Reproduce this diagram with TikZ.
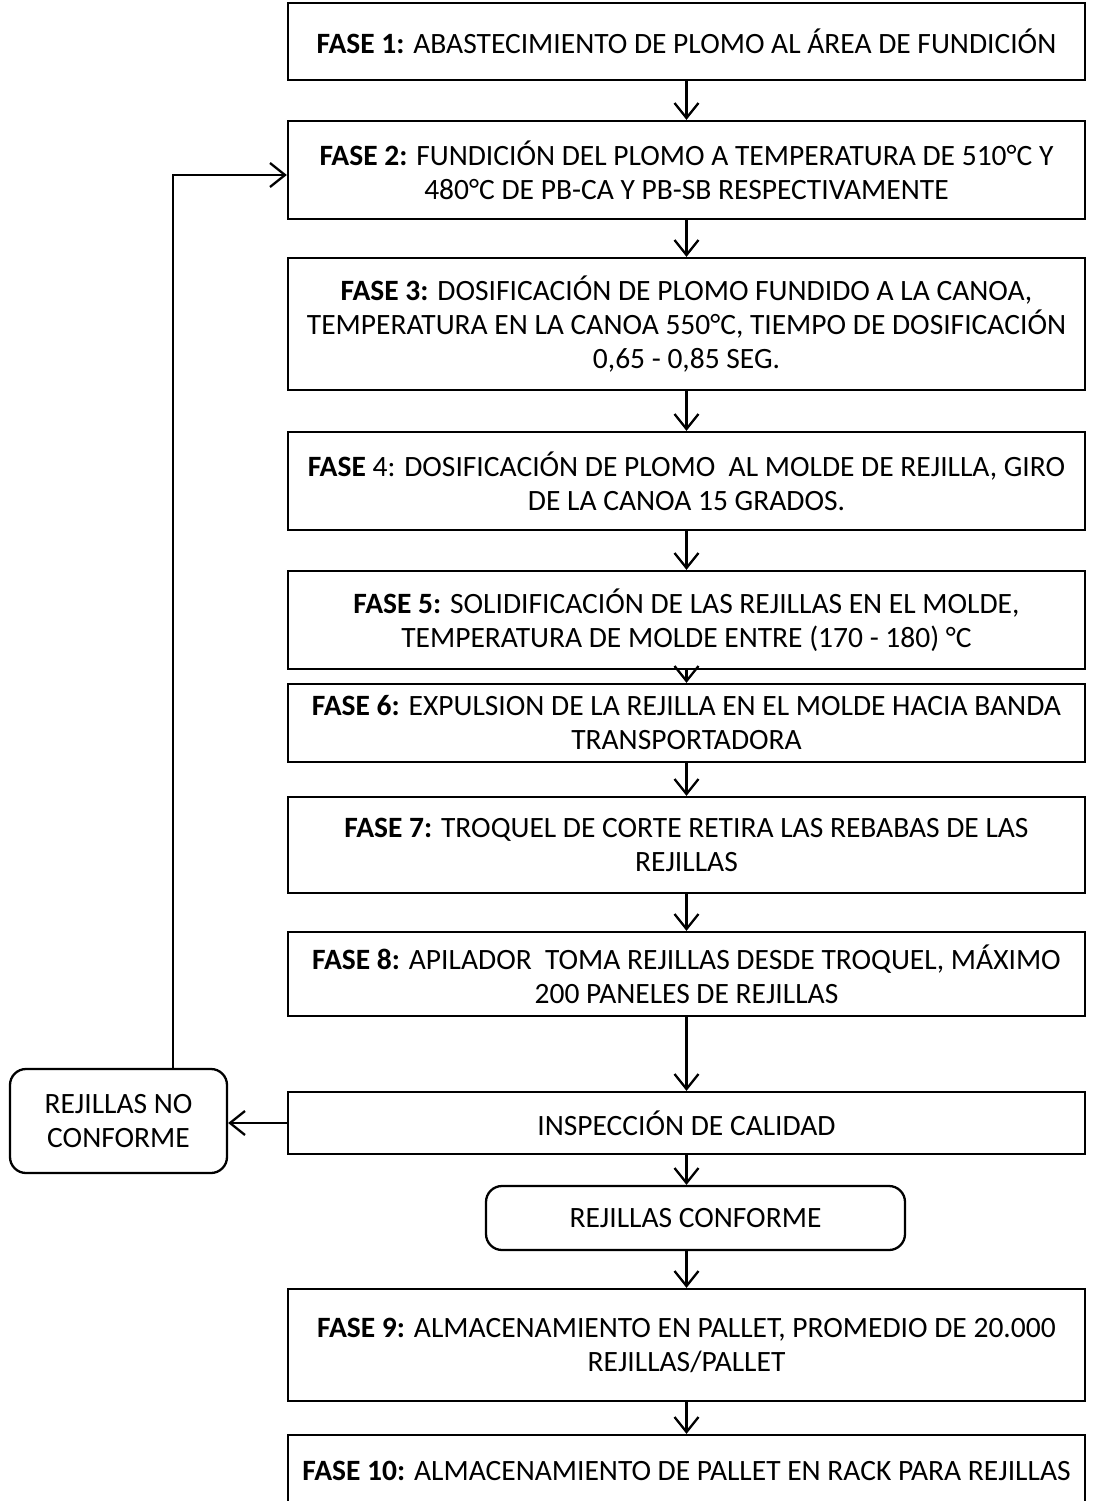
\documentclass[tikz,border=0pt]{standalone}
\usepackage{fontspec}
\setmainfont{Carlito}
\usetikzlibrary{arrows.meta, positioning}

\begin{document}
\begin{tikzpicture}[x=1pt, y=-1pt, line width=2.3pt, >={Straight Barb[length=15pt,width=24pt]},
        fase/.style={draw, rectangle, minimum width=797pt, align=center, inner sep=0pt, font=\fontsize{29.5}{34}\selectfont},
        redondo/.style={draw, rectangle, rounded corners=16pt, align=center, inner sep=0pt, font=\fontsize{29.5}{34}\selectfont}]
        \useasboundingbox (0,0) rectangle (1095,1501);

        \node[fase, minimum height=77pt] (f1) at (686.5,41.5) {\textbf{FASE 1:} ABASTECIMIENTO DE PLOMO AL ÁREA DE FUNDICIÓN};
        \node[fase, minimum height=98pt] (f2) at (686.5,170) {\textbf{FASE 2:} FUNDICIÓN DEL PLOMO A TEMPERATURA DE 510°C Y \\ 480°C DE PB-CA Y PB-SB RESPECTIVAMENTE};
        \node[fase, minimum height=132pt] (f3) at (686.5,324) {\textbf{FASE 3:} DOSIFICACIÓN DE PLOMO FUNDIDO A LA CANOA, \\ TEMPERATURA EN LA CANOA 550°C, TIEMPO DE DOSIFICACIÓN \\ 0,65 - 0,85 SEG.};
        \node[fase, minimum height=98pt] (f4) at (686.5,481) {\textbf{FASE} 4: DOSIFICACIÓN DE PLOMO\ \ AL MOLDE DE REJILLA, GIRO \\ DE LA CANOA 15 GRADOS.};
        \node[fase, minimum height=98pt] (f5) at (686.5,620) {\textbf{FASE 5:} SOLIDIFICACIÓN DE LAS REJILLAS EN EL MOLDE, \\ TEMPERATURA DE MOLDE ENTRE (170 - 180) °C};
        \node[fase, minimum height=78pt] (f6) at (686.5,723) {\textbf{FASE 6:} EXPULSION DE LA REJILLA EN EL MOLDE HACIA BANDA \\ TRANSPORTADORA};
        \node[fase, minimum height=96pt] (f7) at (686.5,845) {\textbf{FASE 7:} TROQUEL DE CORTE RETIRA LAS REBABAS DE LAS \\ REJILLAS};
        \node[fase, minimum height=84pt] (f8) at (686.5,974) {\textbf{FASE 8:} APILADOR\ \ TOMA REJILLAS DESDE TROQUEL, MÁXIMO \\ 200 PANELES DE REJILLAS};
        \node[fase, minimum height=62pt] (insp) at (686.5,1123) {INSPECCIÓN DE CALIDAD};
        \node[redondo, minimum width=419pt, minimum height=64pt] (conf) at (695.5,1218) {REJILLAS CONFORME};
        \node[redondo, minimum width=217pt, minimum height=104pt] (noconf) at (118.5,1121) {REJILLAS NO \\ CONFORME};
        \node[fase, minimum height=112pt] (f9) at (686.5,1345) {\textbf{FASE 9:} ALMACENAMIENTO EN PALLET, PROMEDIO DE 20.000 \\ REJILLAS/PALLET};
        \node[fase, minimum height=72pt] (f10) at (686.5,1471) {\textbf{FASE 10:} ALMACENAMIENTO DE PALLET EN RACK PARA REJILLAS};

        \coordinate (vuelta) at (173,175);

        \draw[->] (f1) -- (f2);
        \draw[->] (f2) -- (f3);
        \draw[->] (f3) -- (f4);
        \draw[->] (f4) -- (f5);
        \draw[->] (f5) -- (f6);
        \draw[->] (f6) -- (f7);
        \draw[->] (f7) -- (f8);
        \draw[->] (f8) -- (insp);
        \draw[->] (insp.south) -- (insp.south |- conf.north);
        \draw[->] (conf.south -| f9.north) -- (f9.north);
        \draw[->] (f9) -- (f10);
        \draw[->] (insp.west) -- (noconf.east |- insp.west);
        \draw[->] (vuelta |- noconf.north) -- (vuelta) -- (f2.west |- vuelta);
    \end{tikzpicture}
\end{document}
